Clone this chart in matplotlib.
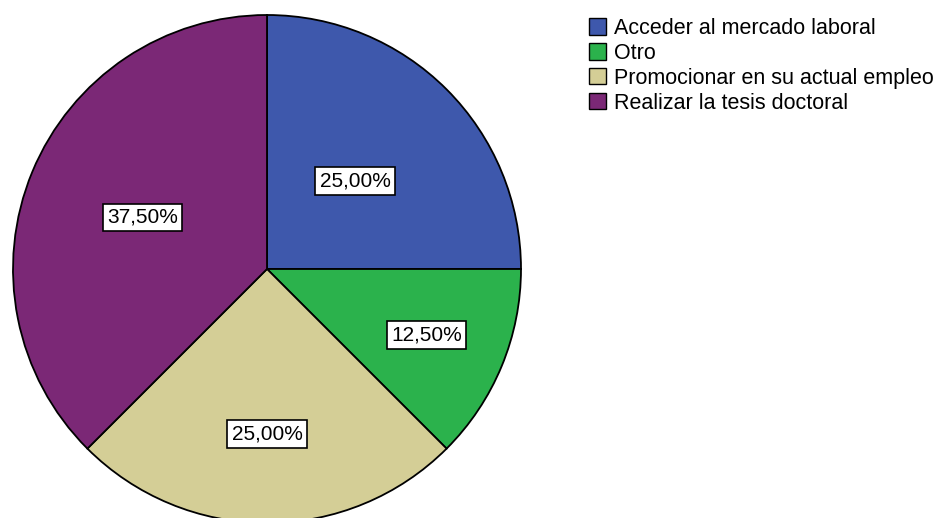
import matplotlib
matplotlib.use('Agg')
import matplotlib.pyplot as plt
import numpy as np
from matplotlib.patches import Patch

categories = ["Acceder al mercado laboral", "Otro",
              "Promocionar en su actual empleo", "Realizar la tesis doctoral"]
percentages = [25.0, 12.5, 25.0, 37.5]
colors = ["#3e58ac", "#2bb24c", "#d4ce96", "#7b2876"]
label_dist = [0.49, 0.68, 0.65, 0.53]

plt.rcParams['font.family'] = ['Liberation Sans', 'DejaVu Sans']

W, H = 934, 518
fig = plt.figure(figsize=(W / 100, H / 100), dpi=100)
cx, cy, r = 267, 518 - 269, 254
ax = fig.add_axes([(cx - r) / W, (cy - r) / H, 2 * r / W, 2 * r / H])

wedges, _ = ax.pie(percentages, colors=colors, startangle=90, counterclock=False,
                   radius=1, wedgeprops=dict(edgecolor='black', linewidth=1.3))
ax.set_xlim(-1, 1)
ax.set_ylim(-1, 1)
ax.set_aspect('equal')
ax.axis('off')

for w, p, d in zip(wedges, percentages, label_dist):
    ang = np.deg2rad((w.theta1 + w.theta2) / 2)
    txt = f"{p:.2f}".replace('.', ',') + "%"
    ax.text(d * np.cos(ang), d * np.sin(ang), txt, ha='center', va='center',
            fontsize=15,
            bbox=dict(boxstyle='square,pad=0.2', facecolor='white',
                      edgecolor='black', linewidth=1.2))

handles = [Patch(facecolor=c, edgecolor='black', linewidth=1) for c in colors]
fig.legend(handles, categories, loc='upper left', bbox_to_anchor=(589 / W, 1 - 18 / H),
           frameon=False, fontsize=15.5, handlelength=0.79, handleheight=0.79,
           handletextpad=0.37, labelspacing=0.18, borderpad=0, borderaxespad=0)

fig.savefig('out.png', dpi=100)
